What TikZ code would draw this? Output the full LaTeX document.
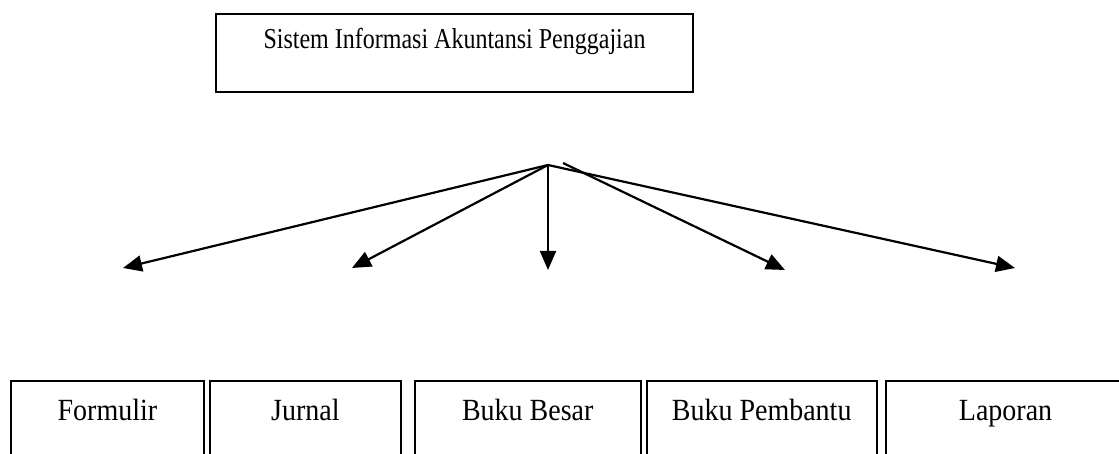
\documentclass[tikz,border=0pt]{standalone}
\usepackage{fontspec}
\usepackage{graphicx}
\setmainfont{Liberation Serif}
\usetikzlibrary{arrows.meta,positioning}

\newcommand{\tall}[2]{\scalebox{1}[#1]{#2}}

\begin{document}
\begin{tikzpicture}[
  x=1pt, y=1pt, >={Triangle[length=19pt,width=16pt]},
  titlebox/.style={rectangle, draw=black, line width=2pt, inner sep=0pt, text centered, minimum width=477pt, text height=35pt, text depth=43pt, font=\fontsize{24}{28}\selectfont},
  partbox/.style={rectangle, draw=black, line width=1.9pt, inner sep=0pt, text centered, text height=40pt, text depth=80pt, font=\fontsize{28}{32}\selectfont},
  line/.style={draw, line width=2.2pt, ->}
]

  % page frame (bottom row runs off the page)
  \clip (0,0) rectangle (1119,-454);

  % Title
  \node[titlebox, anchor=north west] (sia) at (215,-13) {\tall{1.2}{Sistem Informasi Akuntansi Penggajian}};

  % Bottom row
  \node[partbox, minimum width=193pt, anchor=north west] (formulir) at (10,-380) {\tall{1.1}{Formulir}};
  \node[partbox, minimum width=191pt, right=4pt of formulir] (jurnal) {\tall{1.1}{Jurnal}};
  \node[partbox, minimum width=226pt, right=12pt of jurnal] (besar) {\tall{1.1}{Buku Besar}};
  \node[partbox, minimum width=230pt, right=4pt of besar] (pembantu) {\tall{1.1}{Buku Pembantu}};
  \node[partbox, minimum width=240pt, right=7pt of pembantu] (laporan) {\tall{1.1}{Laporan}};

  % Hub and arrow tips
  \coordinate (hub) at (548,-165);
  \coordinate (hub2) at (563,-163);
  \coordinate (tipformulir) at (123,-268);
  \coordinate (tipjurnal) at (352,-268);
  \coordinate (tipbesar) at (548,-270);
  \coordinate (tippembantu) at (785,-270);
  \coordinate (tiplaporan) at (1015,-268);

  % Arrows
  \draw[line] (hub) -- (tipformulir);
  \draw[line] (hub) -- (tipjurnal);
  \draw[line] (hub) -- (tipbesar);
  \draw[line] (hub2) -- (tippembantu);
  \draw[line] (hub) -- (tiplaporan);

\end{tikzpicture}
\end{document}
